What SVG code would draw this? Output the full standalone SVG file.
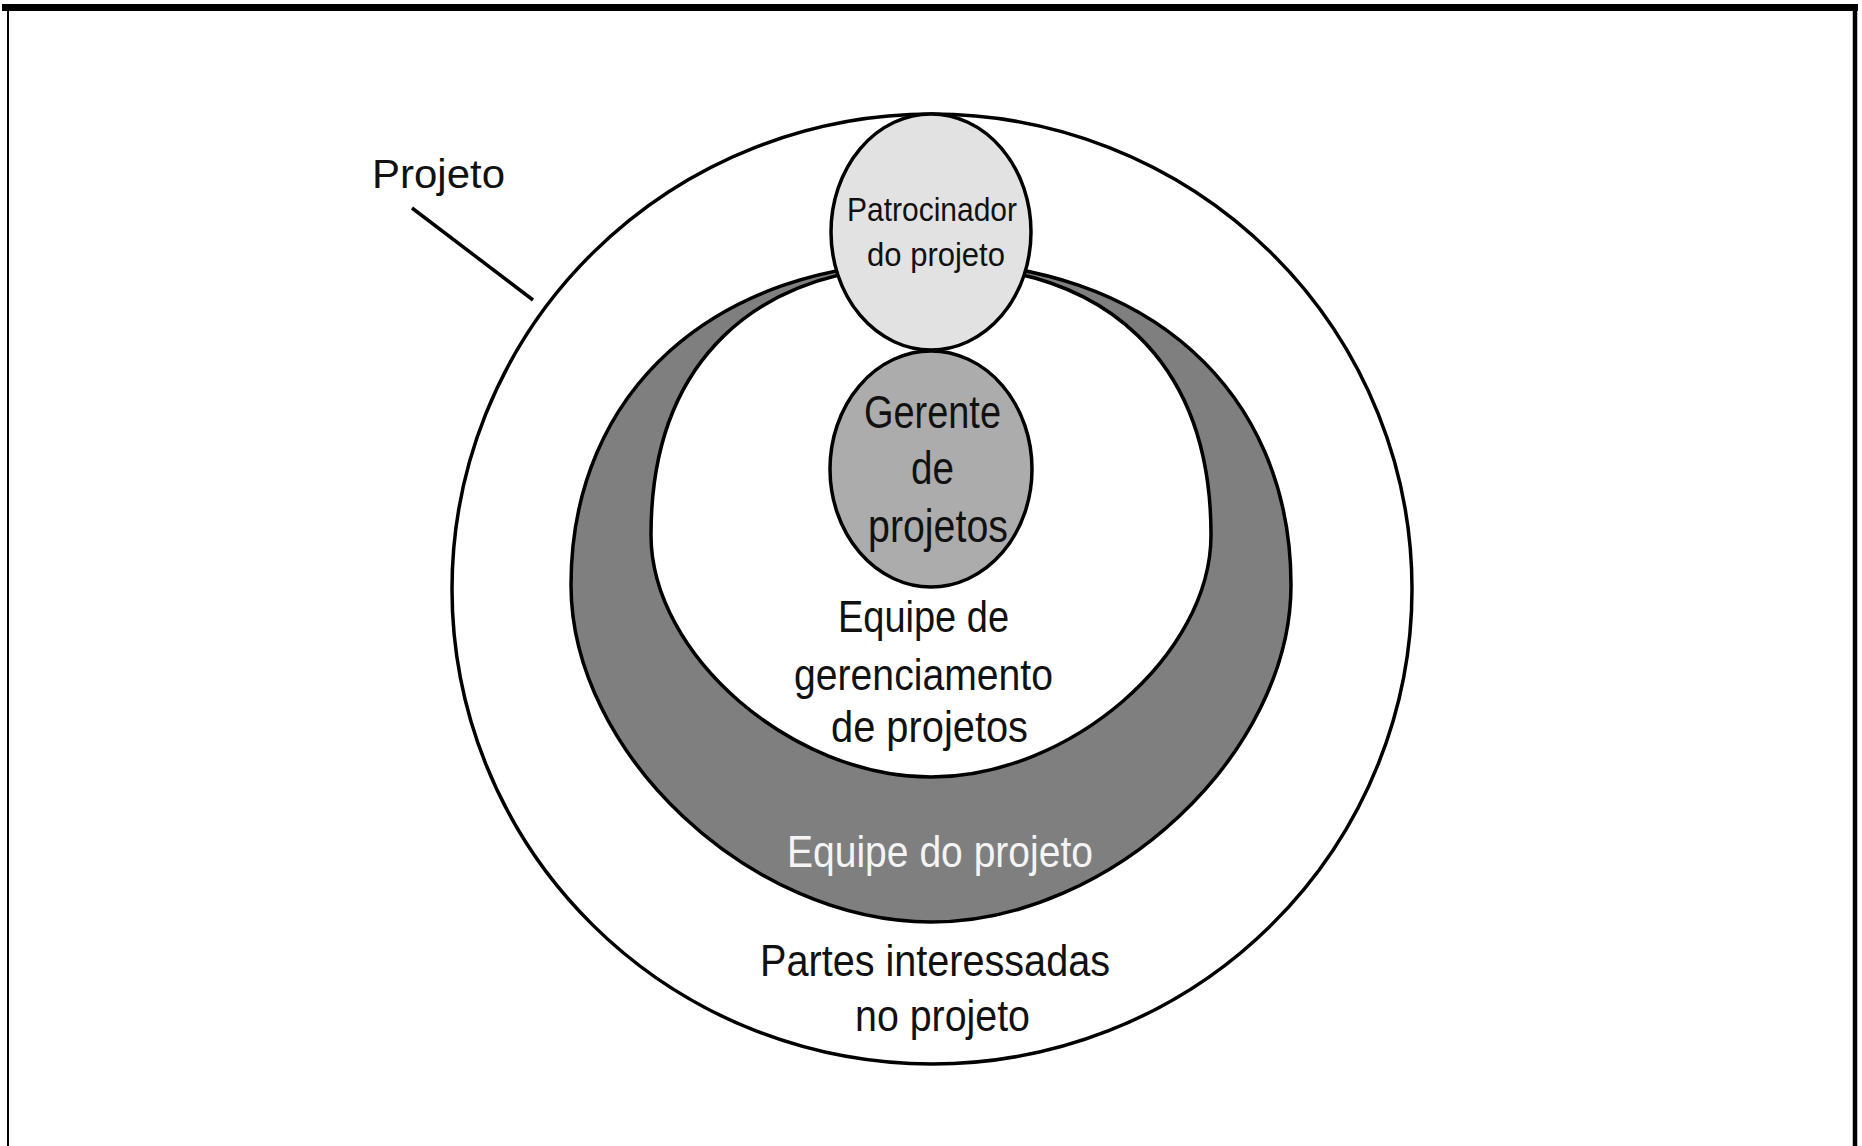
<svg xmlns="http://www.w3.org/2000/svg" width="1862" height="1146" viewBox="0 0 1862 1146">
  <style>
    .edge { stroke: #000; stroke-width: 3.5; }
    .lbl { font-family: "Liberation Sans", Arial, sans-serif; fill: #111; }
    .lbl-light { font-family: "Liberation Sans", Arial, sans-serif; fill: #f4f4f4; }
  </style>

  <rect x="0" y="0" width="1862" height="1146" fill="#fff"/>

  <!-- page frame -->
  <g id="frame" fill="none" stroke="#000">
    <line x1="2" y1="7.5" x2="1858" y2="7.5" stroke-width="7"/>
    <line x1="8" y1="4" x2="8" y2="1146" stroke-width="2"/>
    <line x1="1855" y1="4" x2="1855" y2="1146" stroke-width="4.5"/>
  </g>

  <!-- project boundary -->
  <g id="projeto">
    <ellipse class="edge" cx="932" cy="589" rx="480" ry="475" fill="#fff" stroke-width="4"/>
    <text class="lbl" x="372" y="188" font-size="40" textLength="133" lengthAdjust="spacingAndGlyphs">Projeto</text>
  </g>

  <!-- project team ring -->
  <g id="equipe-projeto">
    <path class="edge" fill="#7f7f7f" d="M 931 262 C 715 262 571 391 571 585 C 571 753 750 922 931 922 C 1112 922 1291 753 1291 585 C 1291 391 1147 262 931 262 Z"/>
    <text class="lbl-light" x="787" y="867" font-size="44" textLength="306" lengthAdjust="spacingAndGlyphs">Equipe do projeto</text>
  </g>

  <!-- project management team -->
  <g id="equipe-gerenciamento">
    <path class="edge" fill="#fff" d="M 931 265 C 752 265 651 364 651 535 C 651 655 792 777 931 777 C 1070 777 1211 655 1211 535 C 1211 364 1110 265 931 265 Z"/>
    <text class="lbl" x="838" y="632" font-size="44" textLength="171" lengthAdjust="spacingAndGlyphs">Equipe de</text>
    <text class="lbl" x="794" y="690" font-size="44" textLength="259" lengthAdjust="spacingAndGlyphs">gerenciamento</text>
    <text class="lbl" x="831" y="742" font-size="44" textLength="197" lengthAdjust="spacingAndGlyphs">de projetos</text>
  </g>

  <!-- stakeholders label in the outer band -->
  <g id="partes-interessadas">
    <text class="lbl" x="760" y="976" font-size="44" textLength="350" lengthAdjust="spacingAndGlyphs">Partes interessadas</text>
    <text class="lbl" x="855" y="1031" font-size="44" textLength="175" lengthAdjust="spacingAndGlyphs">no projeto</text>
  </g>

  <!-- project manager -->
  <g id="gerente">
    <ellipse class="edge" cx="931" cy="469" rx="101" ry="118" fill="#acacac"/>
    <text class="lbl" x="864" y="428" font-size="46" textLength="137" lengthAdjust="spacingAndGlyphs">Gerente</text>
    <text class="lbl" x="911" y="484" font-size="46" textLength="43" lengthAdjust="spacingAndGlyphs">de</text>
    <text class="lbl" x="868" y="542" font-size="46" textLength="140" lengthAdjust="spacingAndGlyphs">projetos</text>
  </g>

  <!-- project sponsor -->
  <g id="patrocinador">
    <ellipse class="edge" cx="931" cy="232" rx="100" ry="118" fill="#e2e2e2"/>
    <text class="lbl" x="847" y="221" font-size="34" textLength="170" lengthAdjust="spacingAndGlyphs">Patrocinador</text>
    <text class="lbl" x="867" y="266" font-size="34" textLength="138" lengthAdjust="spacingAndGlyphs">do projeto</text>
  </g>

  <!-- leader from the "Projeto" label to the boundary -->
  <g id="connectors">
    <line class="edge" x1="412" y1="208" x2="533" y2="300"/>
  </g>
</svg>
